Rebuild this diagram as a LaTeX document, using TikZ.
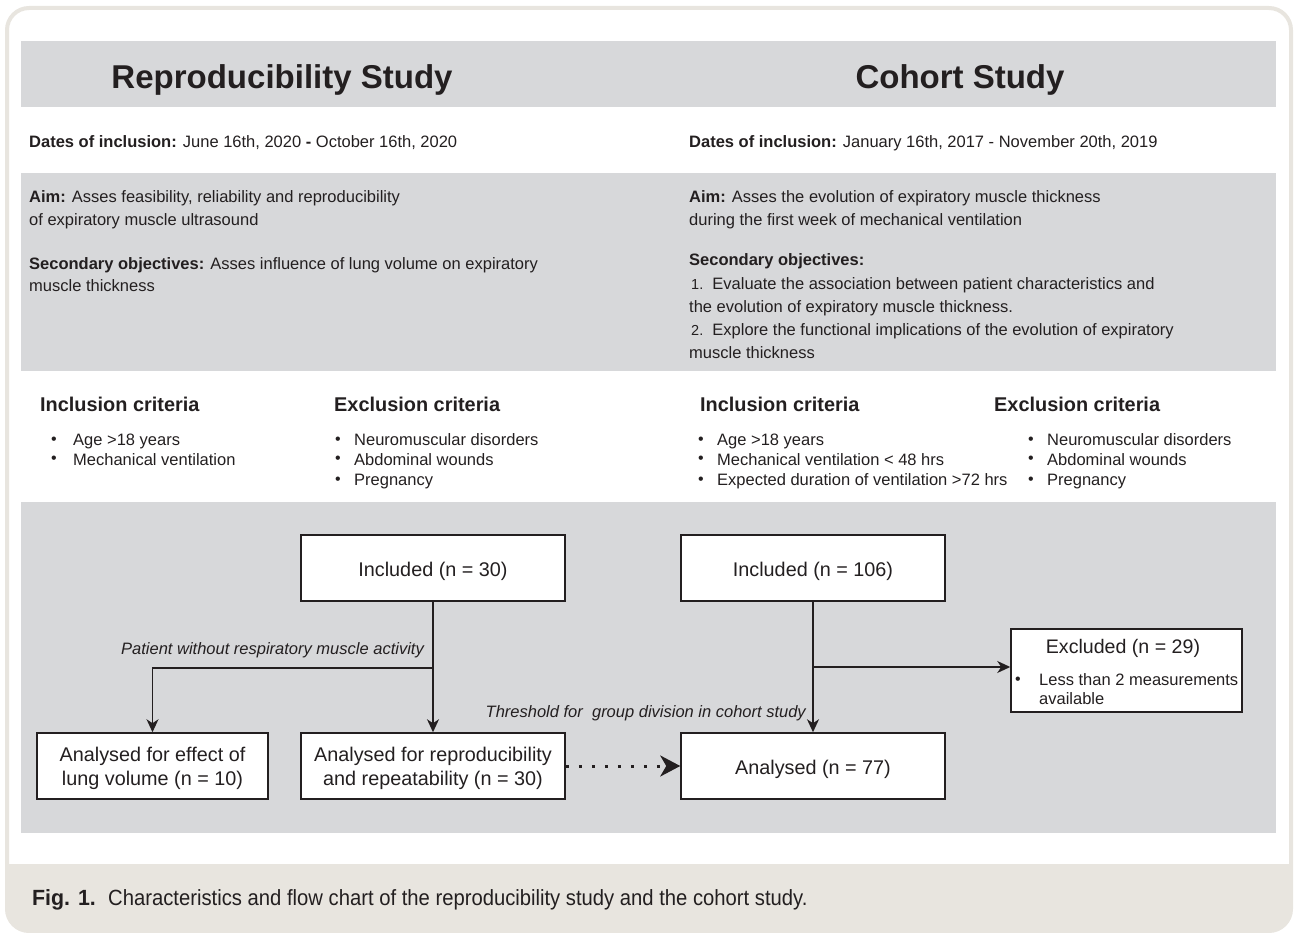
\documentclass[tikz,border=0pt]{standalone}
\usepackage{fontspec}
\setmainfont{Liberation Sans}
\newfontfamily\capfont[FakeStretch=0.92]{Liberation Sans}
\newfontfamily\capbfont[FakeStretch=0.97]{Liberation Sans}
\usetikzlibrary{arrows.meta}
\definecolor{band}{HTML}{D7D8DA}
\definecolor{beige}{HTML}{E8E5DF}
\definecolor{ink}{HTML}{231F20}
\begin{document}
\begin{tikzpicture}[x=1pt,y=-1pt, font=\fontsize{16.5}{19}\selectfont, text=ink,
  txt/.style={anchor=base west, inner sep=0pt},
  hd/.style={anchor=base west, inner sep=0pt, font=\fontsize{19.9}{23}\selectfont\bfseries},
  ttl/.style={anchor=base, inner sep=0pt, font=\fontsize{33}{38}\selectfont\bfseries},
  bul/.style={anchor=base, inner sep=0pt, font=\fontsize{16}{18}\selectfont},
  lbl/.style={anchor=base east, inner sep=0pt, font=\fontsize{16.5}{19}\selectfont\itshape},
  fbox/.style={draw=ink, line width=1.5pt, fill=white, minimum width=264pt, minimum height=66pt, inner sep=0pt},
  btxt/.style={font=\fontsize{19.8}{24}\selectfont, align=center, inner sep=0pt},
  arr/.style={draw=ink, line width=1.5pt, -{Stealth[length=13pt,width=12pt,inset=4pt]}},
  dotarr/.style={draw=ink, line width=3pt, dash pattern=on 3pt off 10pt, -{Stealth[length=20pt,width=21pt,inset=6pt]}}]
\useasboundingbox (0,0) rectangle (1294,933);
% outer frame and caption band
\begin{scope}
  \clip[rounded corners=22pt] (7,8) rectangle (1291,931);
  \fill[white] (7,8) rectangle (1291,931);
  \fill[beige] (7,864) rectangle (1291,931);
\end{scope}
\draw[beige, line width=4pt, rounded corners=22pt] (7,8) rectangle (1291,931);
% gray bands
\fill[band] (21,41) rectangle (1276,107);
\fill[band] (21,173) rectangle (1276,371);
\fill[band] (21,502) rectangle (1276,833);
% titles
\node[ttl] (t1) at (282,89) {Reproducibility Study};
\node[ttl] (t2) at (960,89) {Cohort Study};
% dates
\node[txt] (d1) at (29,148) {\textbf{Dates of inclusion:} June 16th, 2020 \textbf{-} October 16th, 2020};
\node[txt] (d2) at (689,148) {\textbf{Dates of inclusion:} January 16th, 2017 - November 20th, 2019};
% aims left
\node[txt] (a1) at (29,203) {\textbf{Aim:} Asses feasibility, reliability and reproducibility};
\node[txt] (a2) at (29,226) {of expiratory muscle ultrasound};
\node[txt] (a3) at (29,270) {\textbf{Secondary objectives:} Asses influence of lung volume on expiratory};
\node[txt] (a4) at (29,292) {muscle thickness};
% aims right
\node[txt] (b1) at (689,203) {\textbf{Aim:} Asses the evolution of expiratory muscle thickness};
\node[txt] (b2) at (689,226) {during the first week of mechanical ventilation};
\node[txt] (b3) at (689,266) {\textbf{Secondary objectives:}};
\node[txt] (b4) at (691,290) {{\fontsize{14.5}{16}\selectfont 1.}\ \ Evaluate the association between patient characteristics and};
\node[txt] (b5) at (689,313) {the evolution of expiratory muscle thickness.};
\node[txt] (b6) at (691,336) {{\fontsize{14.5}{16}\selectfont 2.}\ \ Explore the functional implications of the evolution of expiratory};
\node[txt] (b7) at (689,359) {muscle thickness};
% criteria headings
\node[hd] (h1) at (40,412) {Inclusion criteria};
\node[hd] (h2) at (334,412) {Exclusion criteria};
\node[hd] (h3) at (700,412) {Inclusion criteria};
\node[hd] (h4) at (994,412) {Exclusion criteria};
% bullets left inclusion
\node[bul] (p1) at (54,444) {•}; \node[txt] (q1) at (73,445) {Age >18 years};
\node[bul] (p2) at (54,464) {•}; \node[txt] (q2) at (73,465) {Mechanical ventilation};
% left exclusion
\node[bul] (p3) at (338,444) {•}; \node[txt] (q3) at (354,445) {Neuromuscular disorders};
\node[bul] (p4) at (338,464) {•}; \node[txt] (q4) at (354,465) {Abdominal wounds};
\node[bul] (p5) at (338,484) {•}; \node[txt] (q5) at (354,485) {Pregnancy};
% right inclusion
\node[bul] (p6) at (701,444) {•}; \node[txt] (q6) at (717,445) {Age >18 years};
\node[bul] (p7) at (701,464) {•}; \node[txt] (q7) at (717,465) {Mechanical ventilation < 48 hrs};
\node[bul] (p8) at (701,484) {•}; \node[txt] (q8) at (717,485) {Expected duration of ventilation >72 hrs};
% right exclusion
\node[bul] (p9) at (1031,444) {•}; \node[txt] (q9) at (1047,445) {Neuromuscular disorders};
\node[bul] (p10) at (1031,464) {•}; \node[txt] (q10) at (1047,465) {Abdominal wounds};
\node[bul] (p11) at (1031,484) {•}; \node[txt] (q11) at (1047,485) {Pregnancy};
% flow boxes
\node[fbox] (inc30) at (433,568) {};
\node[btxt] (inc30t) at (433,571) {Included (n = 30)};
\node[fbox] (inc106) at (813,568) {};
\node[btxt] (inc106t) at (813,571) {Included (n = 106)};
\node[fbox, minimum width=231pt] (lung) at (152.5,766) {};
\node[btxt] (lungt) at (152.5,768) {Analysed for effect of\\lung volume (n = 10)};
\node[fbox] (rep) at (433,766) {};
\node[btxt] (rept) at (433,768) {Analysed for reproducibility\\and repeatability (n = 30)};
\node[fbox] (an77) at (813,766) {};
\node[btxt] (an77t) at (813,769) {Analysed (n = 77)};
\node[fbox, minimum width=231pt, minimum height=83pt] (exc) at (1126.5,670.5) {};
\node[anchor=base, inner sep=0pt, font=\fontsize{19.6}{22}\selectfont] (exct) at (1123,653) {Excluded (n = 29)};
\node[bul] (exb) at (1018,684) {•};
\node[txt] (exl1) at (1039,685) {Less than 2 measurements};
\node[txt] (exl2) at (1039,704) {available};
% connectors
\coordinate (j1) at (433,668);
\coordinate (j2) at (813,667);
\draw[arr] (inc30.south) -- (rep.north);
\draw[arr] (j1) -| (lung.north);
\draw[arr] (inc106.south) -- (an77.north);
\draw[arr] (j2) -- (j2 -| exc.west);
\draw[dotarr] (rep.east) -- (an77.west);
% labels
\node[lbl] (l1) at (424,654) {Patient without respiratory muscle activity};
\node[lbl] (l2) at (806,717) {Threshold for\ \ group division in cohort study};
% caption
\node[txt, font=\capbfont\fontsize{22}{26}\selectfont\bfseries] (cap1) at (32,905) {Fig. 1.};
\node[txt, font=\capfont\fontsize{22}{26}\selectfont] (cap2) at (108,905) {Characteristics and flow chart of the reproducibility study and the cohort study.};
\end{tikzpicture}
\end{document}
